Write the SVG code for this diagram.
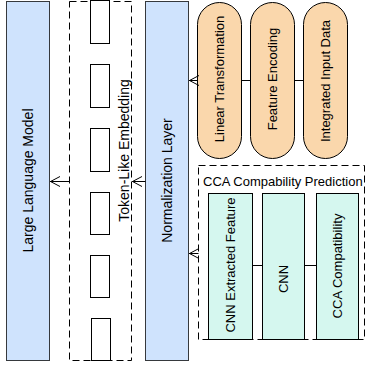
<svg xmlns="http://www.w3.org/2000/svg" width="365" height="369" viewBox="0 0 365 369">
<style>
text{font-family:"Liberation Sans",Arial,sans-serif;font-size:13px;fill:#000}
.big{font-size:14px}
.blue{fill:#cfe3fd;stroke:#36393d;stroke-width:1}
.pill{fill:#fad7ac;stroke:#000;stroke-width:1}
.cyan{fill:#d5f7ef;stroke:#000;stroke-width:1}
.tok{fill:#fff;stroke:#000;stroke-width:1}
.dash{fill:none;stroke:#000;stroke-width:1;stroke-dasharray:7 4}
.line{fill:none;stroke:#000;stroke-width:1}
.head{fill:none;stroke:#000;stroke-width:1}
</style>
<rect width="365" height="369" fill="#fff"/>
<g id="llm">
<rect class="blue" x="6.5" y="1.5" width="43" height="359"/>
<text class="big" transform="translate(27.5,180.5) rotate(-90)" text-anchor="middle" dominant-baseline="central">Large Language Model</text>
</g>
<g id="embedding">
<rect class="dash" x="69.5" y="1.5" width="62" height="359"/>
<rect class="tok" x="90.5" y="0.5" width="19" height="43"/>
<rect class="tok" x="90.5" y="64.5" width="19" height="43"/>
<rect class="tok" x="90.5" y="128.5" width="19" height="43"/>
<rect class="tok" x="90.5" y="192.5" width="19" height="42"/>
<rect class="tok" x="90.5" y="255.5" width="19" height="42"/>
<rect class="tok" x="91.5" y="318.5" width="19" height="42"/>
<text class="big" transform="translate(124,150.5) rotate(-90)" text-anchor="middle" dominant-baseline="central">Token-Like Embedding</text>
</g>
<g id="normalization">
<rect class="blue" x="145.5" y="1.5" width="43" height="359"/>
<text class="big" transform="translate(166.5,180.5) rotate(-90)" text-anchor="middle" dominant-baseline="central">Normalization Layer</text>
</g>
<g id="linear">
<rect class="pill" x="197.5" y="2.5" width="44" height="156" rx="22" ry="22"/>
<text transform="translate(219.5,79) rotate(-90)" text-anchor="middle" dominant-baseline="central">Linear Transformation</text>
</g>
<g id="feature">
<rect class="pill" x="250.5" y="2.5" width="44" height="156" rx="22" ry="22"/>
<text transform="translate(272.5,79) rotate(-90)" text-anchor="middle" dominant-baseline="central">Feature Encoding</text>
</g>
<g id="integrated">
<rect class="pill" x="303.5" y="2.5" width="44" height="156" rx="22" ry="22"/>
<text transform="translate(325.5,81) rotate(-90)" text-anchor="middle" dominant-baseline="central">Integrated Input Data</text>
</g>
<g id="cca-group">
<rect class="dash" x="198.5" y="165.5" width="166" height="174"/>
<text x="203" y="186">CCA Compability Prediction</text>
</g>
<g id="cnn-feature">
<rect class="cyan" x="208.5" y="193.5" width="44" height="146"/>
<text transform="translate(230.5,265) rotate(-90)" text-anchor="middle" dominant-baseline="central">CNN Extracted Feature</text>
</g>
<g id="cnn">
<rect class="cyan" x="262.5" y="193.5" width="42" height="146"/>
<text transform="translate(283.5,279) rotate(-90)" text-anchor="middle" dominant-baseline="central">CNN</text>
</g>
<g id="cca-compat">
<rect class="cyan" x="316.5" y="193.5" width="42" height="146"/>
<text transform="translate(337.5,266) rotate(-90)" text-anchor="middle" dominant-baseline="central">CCA Compatibility</text>
</g>
<g id="connectors">
<path class="line" d="M69.5 181.5H50"/>
<path class="head" d="M60 176.5L50.5 181.5L60 186.5"/>
<path class="line" d="M145.5 181.5H132"/>
<path class="head" d="M142 176.5L132.5 181.5L142 186.5"/>
<path class="line" d="M197.5 80.5H189"/>
<path class="head" d="M199 75.5L189.5 80.5L199 85.5"/>
<path class="line" d="M198.5 253.5H189"/>
<path class="head" d="M199 248.5L189.5 253.5L199 258.5"/>
<path class="line" d="M241.5 80.5H250.5M294.5 80.5H303.5"/>
<path class="line" d="M252.5 265.5H262.5M304.5 265.5H316.5"/>
</g>
</svg>
